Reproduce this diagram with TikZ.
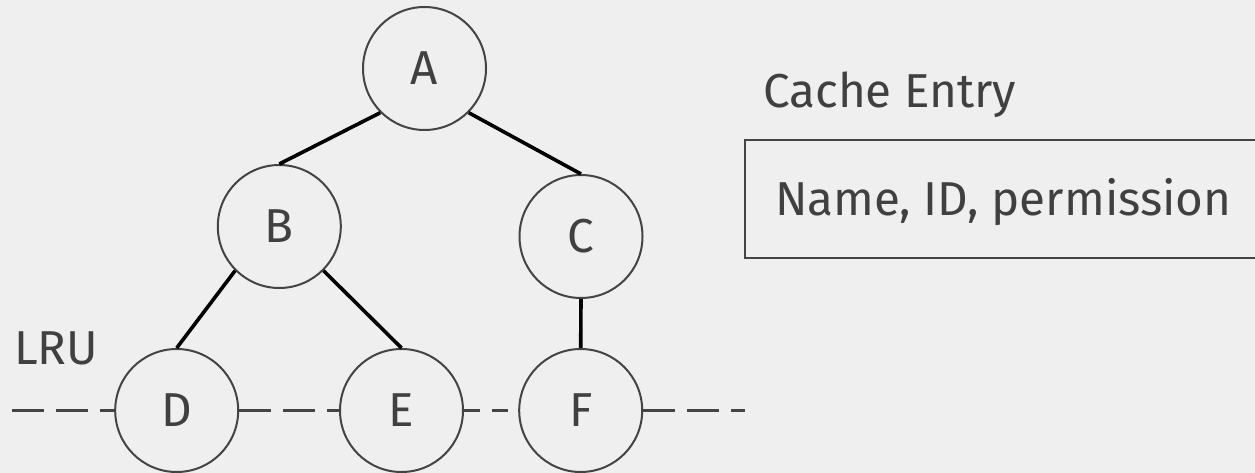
\documentclass[tikz,border=0pt]{standalone}
\usepackage{fontspec}
\setmainfont{Fira Sans}
\definecolor{bgcol}{HTML}{EFEFEF}
\definecolor{inkcol}{HTML}{444444}
\definecolor{txtcol}{HTML}{404040}
\tikzset{
  treenode/.style={circle, draw=inkcol, line width=2pt, minimum size=123pt,
    inner sep=0pt, text=txtcol, font=\fontsize{47.6}{56}\selectfont},
  treeedge/.style={draw=black, line width=3.6pt},
  lruline/.style={draw=inkcol, line width=3.3pt, dash pattern=on 32pt off 12pt},
  lbl/.style={text=txtcol, inner sep=0pt, font=\fontsize{47.6}{56}\selectfont},
  entrybox/.style={draw=inkcol, line width=2pt, inner sep=0pt}
}
\begin{document}
\begin{tikzpicture}[x=1pt, y=-1pt]
  \useasboundingbox[fill=bgcol] (0,0) rectangle (1255,473);
  \clip (0,0) rectangle (1255,473);
  % tree nodes
  \node[treenode] (A) at (424.5,68.5) {A};
  \node[treenode] (B) at (279.3,226.5) {B};
  \node[treenode] (C) at (581,236.5) {C};
  \node[treenode] (D) at (176.7,410.5) {D};
  \node[treenode] (E) at (401.5,410.5) {E};
  \node[treenode] (F) at (580.7,410.5) {F};
  % tree edges
  \draw[treeedge] (A.south west) -- (B.north);
  \draw[treeedge] (A.south east) -- (C.north);
  \draw[treeedge] (B.south west) -- (D.north);
  \draw[treeedge] (B.south east) -- (E.north);
  \draw[treeedge] (C.south) -- (F.north);
  % LRU list
  \coordinate (lruL) at (12.3,410.5);
  \coordinate (lruR) at (745,410.5);
  \draw[lruline] (lruL) -- (D.west);
  \draw[lruline] (D.east) -- (E.west);
  \draw[lruline, dash pattern=on 16pt off 12pt] (E.east) -- (F.west);
  \draw[lruline] (F.east) -- (lruR);
  \node[lbl, anchor=base west] (lru) at (14,364) {LRU};
  % cache entry
  \node[lbl, anchor=base west] (title) at (763,108) {Cache Entry};
  \node[entrybox, anchor=north west, minimum width=560pt, minimum height=118pt] (entry) at (744,139.3) {};
  \node[lbl, anchor=base west] (fields) at (775,215) {Name, ID, permission};
\end{tikzpicture}
\end{document}
